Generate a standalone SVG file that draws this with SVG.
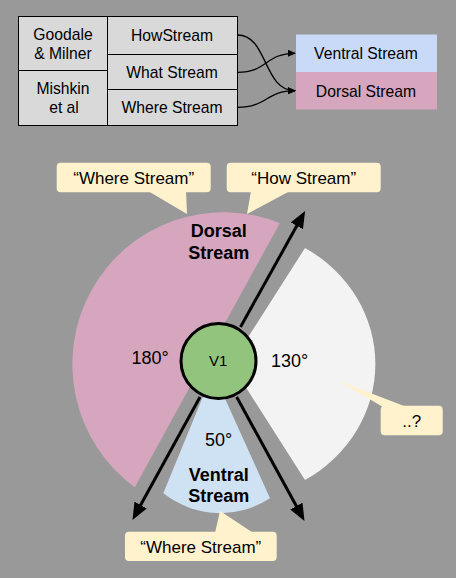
<svg xmlns="http://www.w3.org/2000/svg" width="456" height="578" viewBox="0 0 456 578">
  <style>
    text { font-family: "Liberation Sans", Arial, sans-serif; fill: #000; }
    .tbl { font-size: 15.7px; text-anchor: middle; }
    .cell { fill: #d9d9d9; stroke: #000; stroke-width: 1; }
    .call { fill: #fff2cc; }
    .ct { font-size: 17px; text-anchor: middle; }
    .deg { font-size: 18px; text-anchor: middle; }
    .bold { font-size: 18px; font-weight: bold; text-anchor: middle; }
    .big { stroke: #000; stroke-width: 3; fill: none; marker-end: url(#bigHead); }
    .thin { stroke: #000; stroke-width: 1.3; fill: none; marker-end: url(#smallHead); }
  </style>
  <defs>
    <marker id="bigHead" markerUnits="userSpaceOnUse" markerWidth="17" markerHeight="14" refX="2" refY="7" orient="auto">
      <path d="M0,0 L17,7 L0,14 Z" fill="#000"/>
    </marker>
    <marker id="smallHead" markerUnits="userSpaceOnUse" markerWidth="8" markerHeight="7" refX="7" refY="3.5" orient="auto">
      <path d="M0,0 L8,3.5 L0,7 Z" fill="#000"/>
    </marker>
  </defs>
  <rect width="456" height="578" fill="#999999"/>

  <!-- Table -->
  <g id="goodale">
    <rect class="cell" x="18.5" y="16.5" width="89" height="54"/>
    <text class="tbl" x="63" y="40">Goodale</text>
    <text class="tbl" x="63" y="58.5">&amp; Milner</text>
  </g>
  <g id="mishkin">
    <rect class="cell" x="18.5" y="70.5" width="89" height="55"/>
    <text class="tbl" x="63" y="94">Mishkin</text>
    <text class="tbl" x="64" y="113">et al</text>
  </g>
  <g id="howstream">
    <rect class="cell" x="107.5" y="16.5" width="130" height="38"/>
    <text class="tbl" x="172" y="41">HowStream</text>
  </g>
  <g id="whatstream">
    <rect class="cell" x="107.5" y="54.5" width="130" height="35"/>
    <text class="tbl" x="172" y="77.7">What Stream</text>
  </g>
  <g id="wherestream">
    <rect class="cell" x="107.5" y="89.5" width="130" height="36"/>
    <text class="tbl" x="172" y="113">Where Stream</text>
  </g>
  <g id="ventralbox">
    <rect x="296" y="34.5" width="141" height="37.5" fill="#c9daf8"/>
    <text class="tbl" x="366" y="59.3">Ventral Stream</text>
  </g>
  <g id="dorsalbox">
    <rect x="296" y="72" width="141" height="37.5" fill="#d5a6bd"/>
    <text class="tbl" x="366" y="96.7">Dorsal Stream</text>
  </g>

  <!-- Wedges -->
  <g id="dorsalwedge">
    <path d="M279.8,223.2 A151 152 0 0 0 134.8,487.3 Z" fill="#d5a6bd"/>
    <text class="bold" x="218.7" y="237.3">Dorsal</text>
    <text class="bold" x="218.7" y="259.3">Stream</text>
    <text class="deg" x="150" y="364">180°</text>
  </g>
  <g id="unknownwedge">
    <path d="M305,248 A144 135 0 0 1 305,480 L231,364 Z" fill="#f3f3f3"/>
    <text class="deg" x="289.7" y="367.3">130°</text>
  </g>
  <g id="ventralwedge">
    <path d="M213,372 L163.3,493.3 A112 143 0 0 0 270,498.3 Z" fill="#cfe2f3"/>
    <text class="deg" x="218.5" y="445.7">50°</text>
    <text class="bold" x="218.8" y="480.7">Ventral</text>
    <text class="bold" x="218.8" y="501.7">Stream</text>
  </g>

  <!-- Callouts -->
  <g id="callout-where-top">
    <rect class="call" x="56.7" y="162.7" width="154" height="29.5" rx="4"/>
    <polygon class="call" points="148,191 186,191 187,214"/>
    <text class="ct" x="133.7" y="184">“Where Stream”</text>
  </g>
  <g id="callout-how">
    <rect class="call" x="226.7" y="162.7" width="154" height="29.5" rx="4"/>
    <polygon class="call" points="251,191 290,191 247,214"/>
    <text class="ct" x="303.7" y="184">“How Stream”</text>
  </g>
  <g id="callout-unknown">
    <rect class="call" x="380.7" y="405.7" width="62" height="29.6" rx="4"/>
    <polygon class="call" points="338.3,380.7 406.7,407 383,407"/>
    <text class="ct" x="411.7" y="427">..?</text>
  </g>
  <g id="callout-where-bottom">
    <rect class="call" x="125" y="531.7" width="151.7" height="29.3" rx="4"/>
    <polygon class="call" points="215,533 220,511 253.3,533"/>
    <text class="ct" x="200.8" y="553">“Where Stream”</text>
  </g>

  <!-- Connectors -->
  <g id="connectors">
    <path class="thin" d="M237.5,35 C268,35 263,90.7 295,90.7"/>
    <path class="thin" d="M237.5,72.3 C268,72.3 265,53.3 295,53.3"/>
    <path class="thin" d="M237.5,107.3 C268,107.3 265,90.7 295,90.7"/>
    <path class="big" d="M240.5,327 L297.8,224.1"/>
    <path class="big" d="M200,397 L139.7,506.8"/>
    <path class="big" d="M236.7,397 L297.3,507.8"/>
  </g>

  <!-- V1 -->
  <g id="v1">
    <circle cx="218.5" cy="361" r="37.5" fill="#93c47d" stroke="#000" stroke-width="3"/>
    <text x="218.3" y="365.7" font-size="15" text-anchor="middle" fill="#222">V1</text>
  </g>
</svg>
